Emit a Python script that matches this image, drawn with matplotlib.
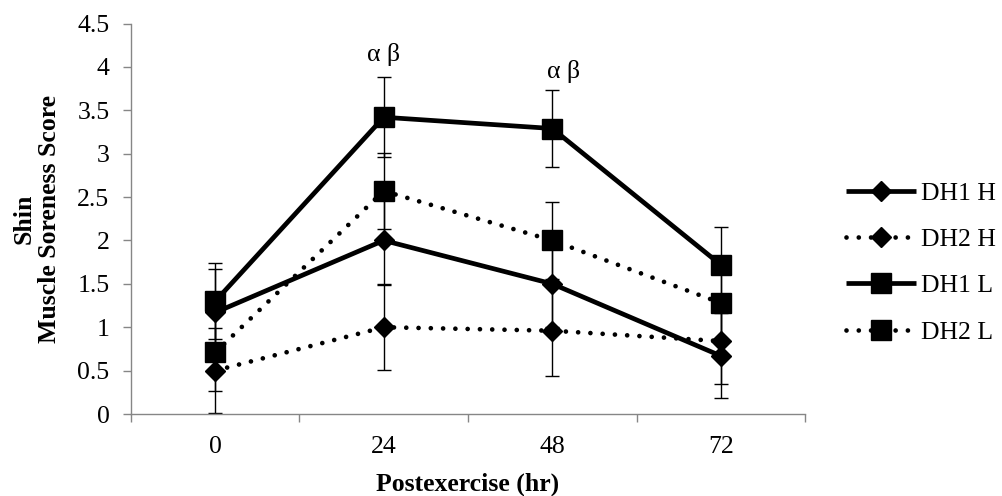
import matplotlib
matplotlib.use("Agg")
import matplotlib.pyplot as plt

plt.rcParams['font.family'] = ['Liberation Serif', 'DejaVu Serif']

# Time points after exercise (hr)
timepoints = ["0", "24", "48", "72"]

# Mean shin soreness scores and their error bars
dh1_h = [1.17, 2.00, 1.50, 0.67]
dh1_h_err = [0.50, 0.50, 0.50, 0.49]
dh2_h = [0.50, 1.00, 0.96, 0.84]
dh2_h_err = [0.49, 0.49, 0.52, 0.49]
dh1_l = [1.30, 3.42, 3.29, 1.72]
dh1_l_err = [0.44, 0.46, 0.44, 0.44]
dh2_l = [0.71, 2.57, 2.00, 1.28]
dh2_l_err = [0.44, 0.44, 0.44, 0.44]

series_names = ["DH1 H", "DH2 H", "DH1 L", "DH2 L"]
yticks = [0, 0.5, 1, 1.5, 2, 2.5, 3, 3.5, 4, 4.5]
ytick_labels = ["0", "0.5", "1", "1.5", "2", "2.5", "3", "3.5", "4", "4.5"]

# Significance markers: (time index, height)
sig_text = "α β"
sig_positions = [(1, 4.14), (2, 3.95)]

FS = 18.5
DOTTED = (0, (0.001, 2.6))
gray = "#868686"

fig = plt.figure(figsize=(10.03, 4.96), dpi=100)
ax = fig.add_axes([0.1306, 0.1653, 0.672, 0.7873])

x = list(range(len(timepoints)))
styles = [
    (dh1_h, dh1_h_err, "-", "D", 10.0),
    (dh2_h, dh2_h_err, DOTTED, "D", 10.0),
    (dh1_l, dh1_l_err, "-", "s", 14.0),
    (dh2_l, dh2_l_err, DOTTED, "s", 14.0),
]

handles = []
for (vals, errs, ls, mk, ms), name in zip(styles, series_names):
    ax.errorbar(x, vals, yerr=errs, fmt="none", ecolor="black",
                elinewidth=1.0, capsize=4.7, capthick=1.0, zorder=2)
    line, = ax.plot(x, vals, color="black", linestyle=ls, linewidth=3.4,
                    marker=mk, markersize=ms, markerfacecolor="black",
                    markeredgecolor="black", dash_capstyle="round",
                    solid_capstyle="butt", zorder=3, label=name)
    handles.append(line)

for xi, yi in sig_positions:
    ax.text(xi + (0.065 if xi == 2 else 0), yi, sig_text, ha="center",
            va="center", fontsize=FS)

ax.set_xlim(-0.5, len(timepoints) - 0.5)
ax.set_ylim(0, 4.5)

ax.set_yticks(yticks)
ax.set_yticklabels(ytick_labels, fontsize=FS)
ax.tick_params(axis="y", direction="out", length=5.5, width=1.0,
               color=gray, pad=10)

# Boundary ticks between categories, labels at category centres
ax.set_xticks([i - 0.5 for i in range(len(timepoints) + 1)])
ax.set_xticklabels([])
ax.tick_params(axis="x", which="major", direction="out", length=5.5,
               width=1.0, color=gray)
ax.set_xticks(x, minor=True)
ax.set_xticklabels(timepoints, minor=True, fontsize=FS)
ax.tick_params(axis="x", which="minor", length=0, pad=16)

for side in ("top", "right"):
    ax.spines[side].set_visible(False)
for side in ("left", "bottom"):
    ax.spines[side].set_color(gray)
    ax.spines[side].set_linewidth(1.0)

ax.set_xlabel("Postexercise (hr)", fontsize=FS, fontweight="bold", labelpad=10)
ax.set_ylabel("Shin\nMuscle Soreness Score", fontsize=FS, fontweight="bold",
              linespacing=1.1, labelpad=12)

leg = fig.legend(handles=handles, loc="center left",
                 bbox_to_anchor=(0.843, 0.47), frameon=False, fontsize=FS,
                 handlelength=2.75, handletextpad=0.2, labelspacing=0.9,
                 borderpad=0, borderaxespad=0)

fig.savefig("out.png", dpi=100)
